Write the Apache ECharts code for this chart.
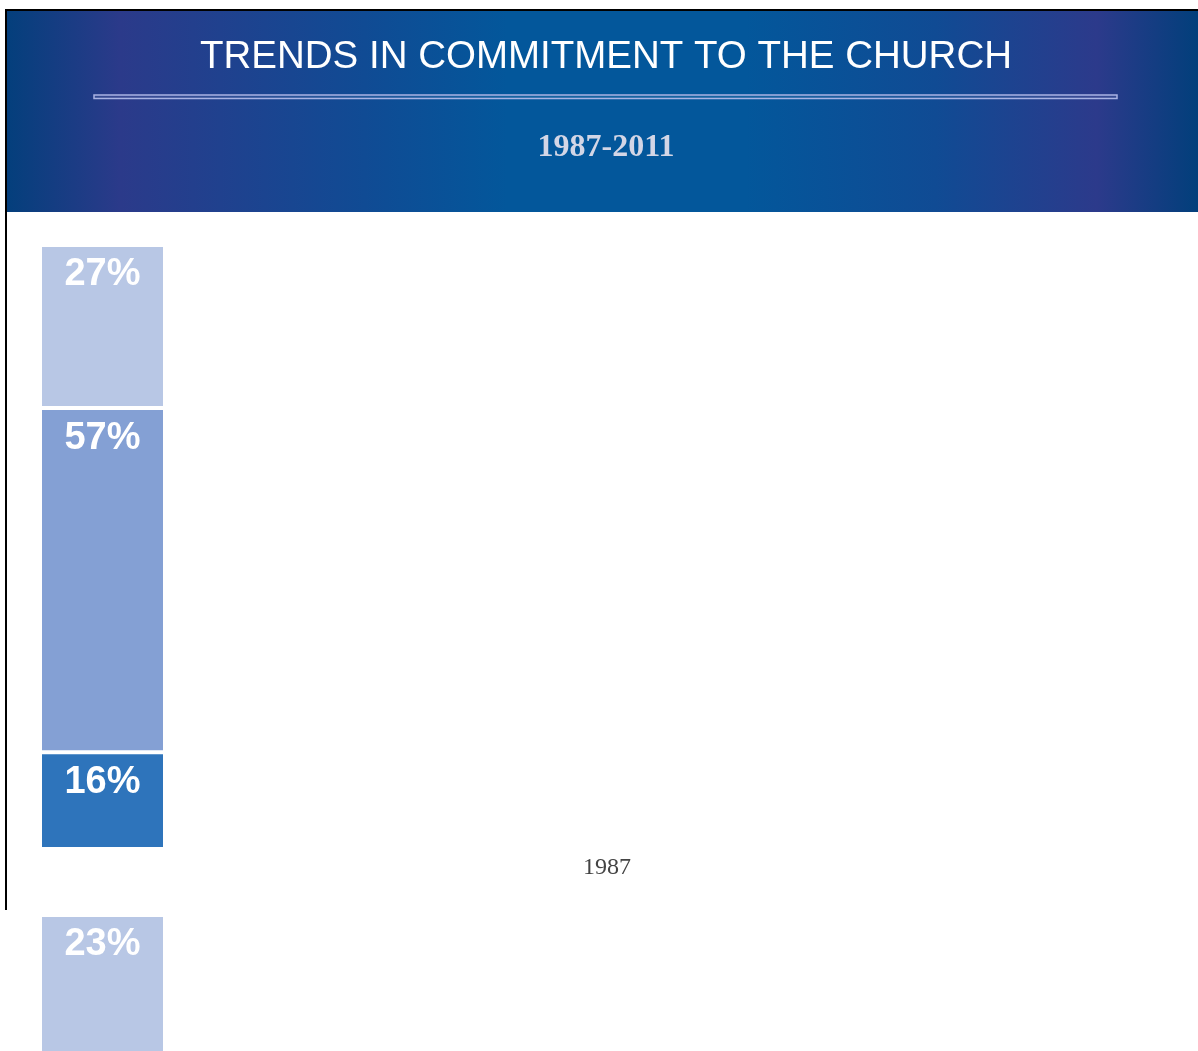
<!DOCTYPE html>
<html><head><meta charset="utf-8">
<script src="https://cdn.jsdelivr.net/npm/echarts@6/dist/echarts.min.js"></script>
<style>html,body{margin:0;padding:0;background:#fff;overflow:hidden}#main{width:1198px;height:1600px}</style>
</head><body><div id="main"></div>
<script>
const titleText = 'TRENDS IN COMMITMENT TO THE CHURCH';
const subtitleText = '1987-2011';
const years = ['1987', '1993'];
const highCommitment = [27, 23];
const mediumCommitment = [57, 57];
const lowCommitment = [16, 20];
const segmentColors = { high: '#b8c7e5', medium: '#84a0d4', low: '#2e74bb' };

const chart = echarts.init(document.getElementById('main'), null, { renderer: 'canvas' });

const grids = [], xAxes = [], yAxes = [], series = [];
years.forEach((yr, i) => {
  const top = 245 + i * 670;
  // bar grid
  grids.push({ left: 40, width: 125, top: top, height: 604 });
  const bg = grids.length - 1;
  xAxes.push({ gridIndex: bg, type: 'category', data: [yr], show: false });
  yAxes.push({ gridIndex: bg, type: 'value', min: 0, max: 100, show: false });
  // label grid
  grids.push({ left: 16, right: 0, top: top, height: 604 });
  const lg = grids.length - 1;
  xAxes.push({ gridIndex: lg, type: 'category', data: [yr],
    axisLine: { show: false }, axisTick: { show: false },
    axisLabel: { fontFamily: 'Liberation Serif', fontSize: 24, color: '#444', margin: 7 } });
  yAxes.push({ gridIndex: lg, type: 'value', min: 0, max: 100, show: false });

  const segs = [
    ['Low', lowCommitment[i], segmentColors.low],
    ['Medium', mediumCommitment[i], segmentColors.medium],
    ['High', highCommitment[i], segmentColors.high]
  ];
  segs.forEach(([name, v, c]) => {
    series.push({
      name: name, type: 'bar', stack: 's' + i,
      xAxisIndex: bg, yAxisIndex: bg,
      barWidth: 125,
      data: [v],
      itemStyle: { color: c, borderColor: '#ffffff', borderWidth: 2 },
      label: { show: true, position: 'insideTop', distance: 11, formatter: '{c}%',
        color: '#ffffff', fontSize: 38, fontWeight: 'bold', fontFamily: 'Liberation Sans' }
    });
  });
});

const option = {
  animation: false,
  backgroundColor: '#ffffff',
  grid: grids, xAxis: xAxes, yAxis: yAxes, series: series,
  graphic: [
    { type: 'rect', shape: { x: 7, y: 11, width: 1191, height: 201 }, z: 1,
      style: { fill: new echarts.graphic.LinearGradient(0, 0, 1, 0, [
        { offset: 0, color: '#043f7c' },
        { offset: 0.095, color: '#2b3a8a' },
        { offset: 0.3, color: '#104b94' },
        { offset: 0.42, color: '#03579b' },
        { offset: 0.62, color: '#03579b' },
        { offset: 0.78, color: '#104b94' },
        { offset: 0.915, color: '#2c3a8b' },
        { offset: 1, color: '#023f7b' }
      ]) } },
    { type: 'rect', shape: { x: 5, y: 9, width: 1193, height: 2 }, style: { fill: '#000' }, z: 2 },
    { type: 'rect', shape: { x: 5, y: 9, width: 2, height: 901 }, style: { fill: '#000' }, z: 2 },
    { type: 'rect', shape: { x: 94, y: 95, width: 1023, height: 3.5 }, z: 2,
      style: { fill: 'rgba(255,255,255,0.08)', stroke: '#a9b3e3', lineWidth: 1.5 } },
    { type: 'text', x: 606, y: 57, z: 3,
      style: { text: titleText, fill: '#ffffff', fontSize: 38.5, fontFamily: 'Liberation Sans',
        align: 'center', verticalAlign: 'middle' } },
    { type: 'text', x: 606, y: 148, z: 3,
      style: { text: subtitleText, fill: '#d3d6e6', fontSize: 32, fontWeight: 'bold', fontFamily: 'Liberation Serif',
        align: 'center', verticalAlign: 'middle' } }
  ]
};
chart.setOption(option);
</script>
</body></html>
